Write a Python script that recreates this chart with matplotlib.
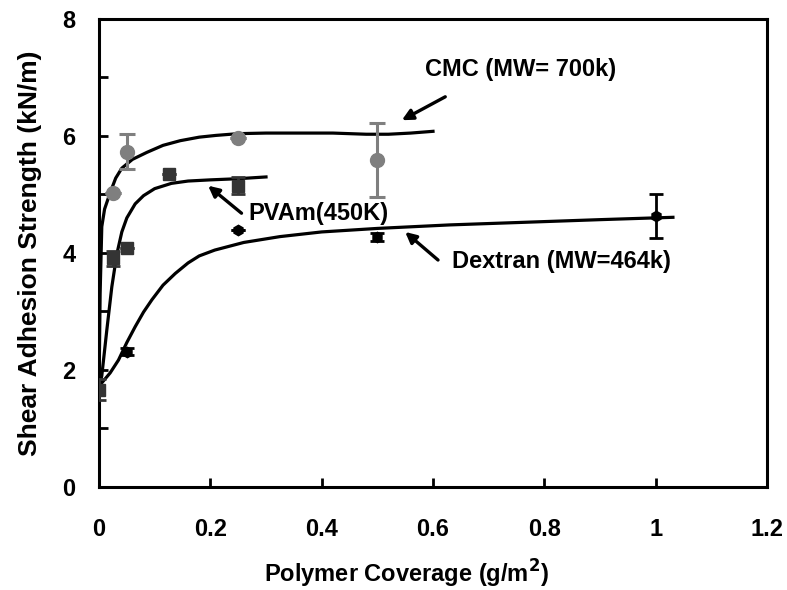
import matplotlib
matplotlib.use("Agg")
import matplotlib.pyplot as plt
from matplotlib.ticker import MultipleLocator

# ── measured points ──────────────────────────────────────────────
cmc_x = [0.025, 0.05, 0.25, 0.5]
cmc_y = [5.02, 5.73, 5.96, 5.59]
cmc_err = [0.0, 0.30, 0.0, 0.63]

pvam_x = [0.0, 0.025, 0.05, 0.125, 0.25]
pvam_y = [1.66, 3.91, 4.08, 5.35, 5.15]
pvam_err = [0.18, 0.13, 0.0, 0.0, 0.15]

dex_x = [0.05, 0.25, 0.5, 1.0]
dex_y = [2.31, 4.39, 4.27, 4.63]
dex_err = [0.06, 0.0, 0.07, 0.38]

# ── fitted curves ───────────────────────────────────────────────
cmc_fit_x = [0.0, 0.002, 0.005, 0.01, 0.02, 0.03, 0.041, 0.06, 0.086, 0.115,
             0.146, 0.18, 0.21, 0.25, 0.3, 0.36, 0.42, 0.48, 0.52, 0.56, 0.6]
cmc_fit_y = [1.7, 3.3, 4.45, 4.75, 5.03, 5.28, 5.45, 5.6, 5.72, 5.84,
             5.92, 5.98, 6.01, 6.04, 6.05, 6.05, 6.05, 6.03, 6.03, 6.05, 6.08]

pvam_fit_x = [0.0, 0.005, 0.014, 0.023, 0.032, 0.041, 0.05, 0.065, 0.08, 0.1,
              0.13, 0.16, 0.2, 0.25, 0.3]
pvam_fit_y = [1.7, 1.9, 2.68, 3.42, 3.98, 4.36, 4.6, 4.84, 4.98, 5.1,
              5.19, 5.23, 5.25, 5.27, 5.3]

dex_fit_x = [0.0, 0.005, 0.02, 0.035, 0.05, 0.065, 0.08, 0.095, 0.115, 0.137,
             0.16, 0.18, 0.208, 0.26, 0.325, 0.4, 0.5, 0.63, 0.75, 0.9, 1.031]
dex_fit_y = [1.7, 1.78, 1.95, 2.17, 2.47, 2.74, 2.99, 3.2, 3.45, 3.65,
             3.83, 3.95, 4.05, 4.18, 4.28, 4.36, 4.42, 4.48, 4.52, 4.57, 4.61]

x_ticks = [0, 0.2, 0.4, 0.6, 0.8, 1.0, 1.2]
x_tick_labels = ["0", "0.2", "0.4", "0.6", "0.8", "1", "1.2"]
y_ticks = [0, 2, 4, 6, 8]
y_tick_labels = ["0", "2", "4", "6", "8"]

plt.rcParams.update({
    "font.family": ["Liberation Sans", "DejaVu Sans"],
    "font.weight": "bold",
})

fig = plt.figure(figsize=(7.87, 5.9), dpi=100)
ax = fig.add_axes([0.1258, 0.1746, 0.8488, 0.7932])

LW = 2.3
ax.plot(cmc_fit_x, cmc_fit_y, color="black", lw=LW, zorder=2)
ax.plot(pvam_fit_x, pvam_fit_y, color="black", lw=LW, zorder=2)
ax.plot(dex_fit_x, dex_fit_y, color="black", lw=LW, zorder=2)

ax.errorbar(cmc_x, cmc_y, yerr=cmc_err, fmt="o", color="#7f7f7f", ms=10,
            elinewidth=2.2, capsize=6, capthick=2.2, zorder=3)
ax.errorbar(pvam_x, pvam_y, yerr=pvam_err, fmt="s", color="#343434", ms=9,
            elinewidth=2, capsize=5, capthick=2, zorder=3)
ax.errorbar(dex_x, dex_y, yerr=dex_err, fmt="h", color="black", ms=7.5,
            elinewidth=2, capsize=5, capthick=2, zorder=4)

ax.set_xlim(0, 1.2)
ax.set_ylim(0, 8)
ax.set_xticks(x_ticks)
ax.set_xticklabels(x_tick_labels)
ax.set_yticks(y_ticks)
ax.set_yticklabels(y_tick_labels)
ax.yaxis.set_minor_locator(MultipleLocator(1))

ax.tick_params(which="both", direction="in", length=6.5, width=2)
ax.tick_params(labelsize=17)
ax.tick_params(axis="x", pad=22)
ax.tick_params(axis="y", pad=17)
for sp in ax.spines.values():
    sp.set_linewidth(2.2)

ax.set_xlabel("Polymer Coverage (g/m$^\\mathbf{2}$)", fontsize=17,
              fontweight="bold")
ax.xaxis.set_label_coords(0.46, -0.152)
ax.set_ylabel("Shear Adhesion Strength (kN/m)", fontsize=19,
              fontweight="bold")
ax.yaxis.set_label_coords(-0.085, 0.5)

arrow = dict(arrowstyle="-|>", color="black", lw=2.4, mutation_scale=16,
             shrinkA=0, shrinkB=0)
ax.annotate("", xy=(0.544, 6.27), xytext=(0.622, 6.67), arrowprops=arrow)
ax.text(0.758, 7.13, "CMC (MW= 700k)", fontsize=17, fontweight="bold",
        ha="center", va="center")
ax.annotate("", xy=(0.196, 5.15), xytext=(0.256, 4.68), arrowprops=arrow)
ax.text(0.268, 4.68, "PVAm(450K)", fontsize=17, fontweight="bold",
        ha="left", va="center")
ax.annotate("", xy=(0.55, 4.36), xytext=(0.609, 3.88), arrowprops=arrow)
ax.text(0.634, 3.85, "Dextran (MW=464k)", fontsize=17, fontweight="bold",
        ha="left", va="center")

fig.savefig("out.png", dpi=100)
